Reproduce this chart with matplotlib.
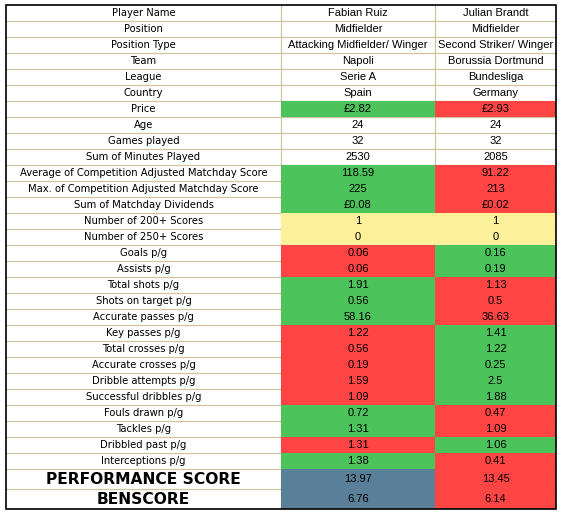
import numpy as np
import matplotlib
matplotlib.use('Agg')
import matplotlib.pyplot as plt
from matplotlib.patches import Rectangle

# %% Table data
labels = ['Player Name', 'Position', 'Position Type', 'Team', 'League', 'Country',
          'Price', 'Age', 'Games played', 'Sum of Minutes Played',
          'Average of Competition Adjusted Matchday Score',
          'Max. of Competition Adjusted Matchday Score',
          'Sum of Matchday Dividends', 'Number of 200+ Scores', 'Number of 250+ Scores',
          'Goals p/g', 'Assists p/g', 'Total shots p/g', 'Shots on target p/g',
          'Accurate passes p/g', 'Key passes p/g', 'Total crosses p/g',
          'Accurate crosses p/g', 'Dribble attempts p/g', 'Successful dribbles p/g',
          'Fouls drawn p/g', 'Tackles p/g', 'Dribbled past p/g', 'Interceptions p/g',
          'PERFORMANCE SCORE', 'BENSCORE']

ruiz = ['Fabian Ruiz', 'Midfielder', 'Attacking Midfielder/ Winger', 'Napoli', 'Serie A',
        'Spain', '£2.82', '24', '32', '2530', '118.59', '225', '£0.08', '1', '0',
        '0.06', '0.06', '1.91', '0.56', '58.16', '1.22', '0.56', '0.19', '1.59', '1.09',
        '0.72', '1.31', '1.31', '1.38', '13.97', '6.76']

brandt = ['Julian Brandt', 'Midfielder', 'Second Striker/ Winger', 'Borussia Dortmund',
          'Bundesliga', 'Germany', '£2.93', '24', '32', '2085', '91.22', '213', '£0.02',
          '1', '0', '0.16', '0.19', '1.13', '0.5', '36.63', '1.41', '1.22', '0.25', '2.5',
          '1.88', '0.47', '1.09', '1.06', '0.41', '13.45', '6.14']

# conditional formatting: w=white, g=green, r=red, y=yellow, b=blue
ruiz_fmt = list('wwwwwwgwwwgggyyrrgggrrrrrggrgbb')
brandt_fmt = list('wwwwwwrwwwrrryyggrrrgggggrrgrrr')

# %% Layout
colors = {'w': 'white', 'g': '#4cc35b', 'r': '#fe4543', 'y': '#fdf09b', 'b': '#5a7f99'}
gridc = '#cfc6a0'
colx = [6, 281, 435, 556]
top = 5
heights = [16] * 29 + [20, 20]
edges = top + np.concatenate([[0], np.cumsum(heights)])
bottom = edges[-1]

fig = plt.figure(figsize=(5.66, 5.19), dpi=100)
ax = fig.add_axes([0, 0, 1, 1])
ax.set_xlim(0, 566)
ax.set_ylim(519, 0)
ax.axis('off')

# grid lines underneath
for y in edges[1:-1]:
    ax.plot([colx[0], colx[-1]], [y, y], color=gridc, lw=0.9, zorder=1, solid_capstyle='butt')
for x in colx[1:-1]:
    ax.plot([x, x], [top, bottom], color=gridc, lw=0.9, zorder=1, solid_capstyle='butt')

# coloured cells on top
for i in range(len(labels)):
    y0, h = edges[i], heights[i]
    for j, fmt in enumerate([ruiz_fmt, brandt_fmt]):
        if fmt[i] != 'w':
            ax.add_patch(Rectangle((colx[j + 1], y0), colx[j + 2] - colx[j + 1], h,
                                   facecolor=colors[fmt[i]], edgecolor='none',
                                   antialiased=False, zorder=2))

# texts
for i, lab in enumerate(labels):
    yc = edges[i] + heights[i] / 2
    xc = (colx[0] + colx[1]) / 2
    if i >= 29:
        ax.text(xc, yc + 0.5, lab, ha='center', va='center', fontsize=11.2,
                fontweight='heavy', family='DejaVu Sans', color='black', zorder=3)
    else:
        ax.text(xc, yc + 0.5, lab, ha='center', va='center', fontsize=7.2,
                family='DejaVu Sans', color='black', zorder=3)
    for j, vals in enumerate([ruiz, brandt]):
        xv = (colx[j + 1] + colx[j + 2]) / 2
        ax.text(xv, yc + 0.5, vals[i], ha='center', va='center', fontsize=8,
                family='Liberation Sans', color='black', zorder=3)

# outer border
ax.add_patch(Rectangle((colx[0], top), colx[-1] - colx[0], bottom - top,
                       facecolor='none', edgecolor='black', lw=1.2, zorder=4))

fig.savefig('out.png', dpi=100)
